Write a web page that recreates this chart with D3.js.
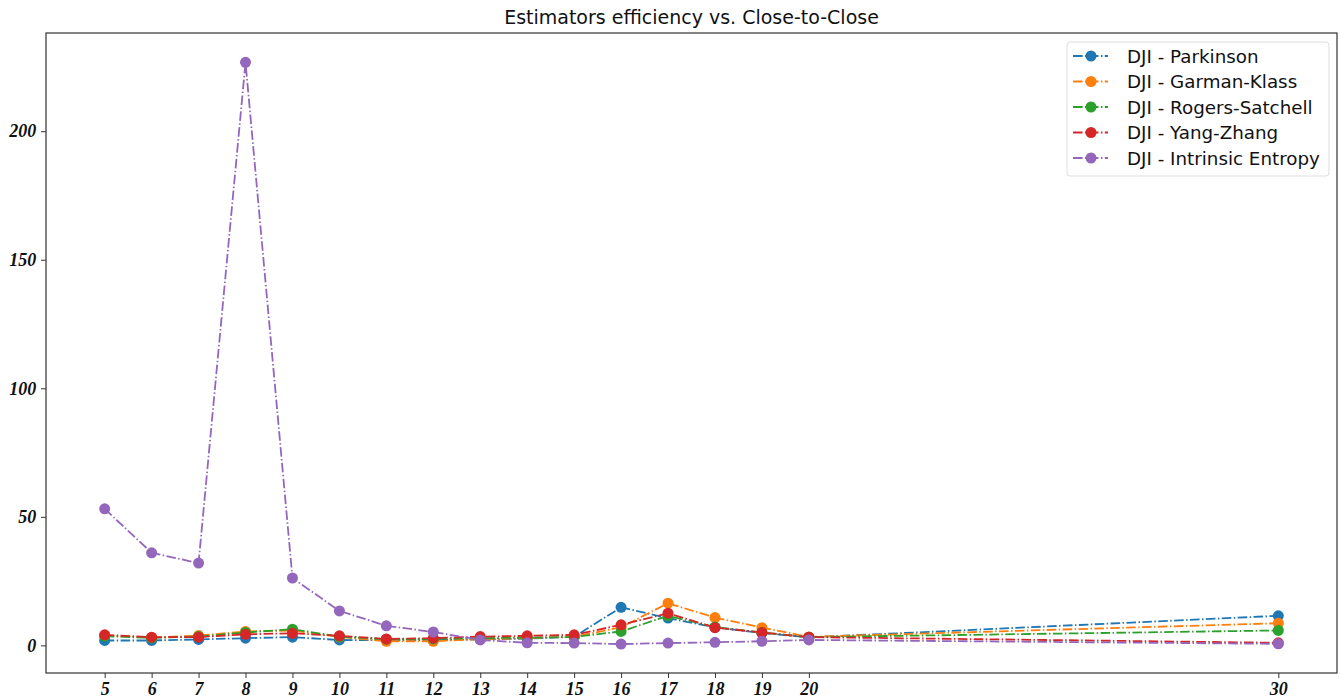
<!DOCTYPE html>
<html><head><meta charset="utf-8">
<script src="https://cdn.jsdelivr.net/npm/d3@7"></script>
<style>body{margin:0;background:#fff}</style>
</head><body>
<svg id="c" width="1340" height="700"></svg>
<script>
const windows = [5,6,7,8,9,10,11,12,13,14,15,16,17,18,19,20,30];
const seriesNames = ["DJI - Parkinson","DJI - Garman-Klass","DJI - Rogers-Satchell","DJI - Yang-Zhang","DJI - Intrinsic Entropy"];
const parkinson   = [1.9,1.9,2.3,2.8,3.2,2.1,2.0,2.1,2.3,2.6,3.3,14.8,10.6,7.0,4.8,3.1,11.5];
const garmanKlass = [3.8,3.0,3.8,5.4,5.8,3.3,1.6,1.6,2.4,2.8,3.4,7.0,16.4,10.8,6.9,3.3,8.6];
const rogersSatch = [3.6,2.9,3.4,5.0,6.3,3.4,2.4,2.5,2.8,3.0,3.3,5.4,11.5,7.1,5.0,3.2,5.8];
const yangZhang   = [4.1,3.2,3.2,4.3,4.7,3.7,2.5,2.8,3.4,3.7,4.1,8.0,12.5,6.9,5.0,3.2,1.0];
const intrinsic   = [53.1,36.0,32.0,226.8,26.2,13.4,7.6,5.2,2.1,1.0,0.9,0.5,0.9,1.2,1.6,2.1,0.6];
const xTicks = [5,6,7,8,9,10,11,12,13,14,15,16,17,18,19,20,30];
const yTicks = [0,50,100,150,200];
const colors = ["#1f77b4","#ff7f0e","#2ca02c","#d62728","#9467bd"];
const allSeries = [parkinson,garmanKlass,rogersSatch,yangZhang,intrinsic];

const svg = d3.select("#c");
const L=46, T=33, R=1337, B=673;
const x = d3.scaleLinear().domain([3.75,31.25]).range([L,R]);
const y = d3.scaleLinear().domain([-10.75,238.2]).range([B,T]);

// title
svg.append("text").attr("x",(L+R)/2).attr("y",24).attr("text-anchor","middle")
  .attr("font-family","DejaVu Sans").attr("font-size",19).attr("fill","#111")
  .text("Estimators efficiency vs. Close-to-Close");

// axes
const xAxis = svg.append("g").attr("transform",`translate(0,${B})`)
  .call(d3.axisBottom(x).tickValues(xTicks).tickSize(5).tickSizeOuter(0).tickFormat(d3.format("d")));
const yAxis = svg.append("g").attr("transform",`translate(${L},0)`)
  .call(d3.axisLeft(y).tickValues(yTicks).tickSize(5).tickSizeOuter(0));
[xAxis,yAxis].forEach(g=>{
  g.select(".domain").remove();
  g.selectAll("line").attr("stroke","#333").attr("stroke-width",1);
  g.selectAll("text").attr("font-family","Liberation Serif").attr("font-weight","bold")
   .attr("font-style","italic").attr("font-size",18).attr("fill","#111");
});
xAxis.selectAll("text").attr("dy","0.76em");
yAxis.selectAll("text").attr("dx","-0.1em");

// frame
svg.append("rect").attr("x",L).attr("y",T).attr("width",R-L).attr("height",B-T)
  .attr("fill","none").attr("stroke","#333").attr("stroke-width",1.2);

const line = d3.line().x((d,i)=>x(windows[i])).y(d=>y(d));
allSeries.forEach((s,k)=>{
  const g = svg.append("g");
  g.append("path").datum(s).attr("d",line).attr("fill","none").attr("stroke",colors[k])
    .attr("stroke-width",1.8).attr("stroke-dasharray","9.6,2.4,1.5,2.4");
  g.selectAll("circle").data(s).join("circle").attr("cx",(d,i)=>x(windows[i])).attr("cy",d=>y(d))
    .attr("r",5.5).attr("fill",colors[k]);
});

// legend
const lg = svg.append("g");
lg.append("rect").attr("x",1067).attr("y",42).attr("width",262).attr("height",134).attr("rx",3)
  .attr("fill","#fff").attr("fill-opacity",0.8).attr("stroke","#ddd");
seriesNames.forEach((n,k)=>{
  const yy = 56 + k*25.5;
  lg.append("line").attr("x1",1073).attr("x2",1108).attr("y1",yy).attr("y2",yy)
    .attr("stroke",colors[k]).attr("stroke-width",1.8).attr("stroke-dasharray","9.6,2.4,1.5,2.4");
  lg.append("circle").attr("cx",1091).attr("cy",yy).attr("r",5.5).attr("fill",colors[k]);
  lg.append("text").attr("x",1127).attr("y",yy+6.5).attr("font-family","DejaVu Sans")
    .attr("font-size",18.3).attr("fill","#111").text(n);
});
</script>
</body></html>
